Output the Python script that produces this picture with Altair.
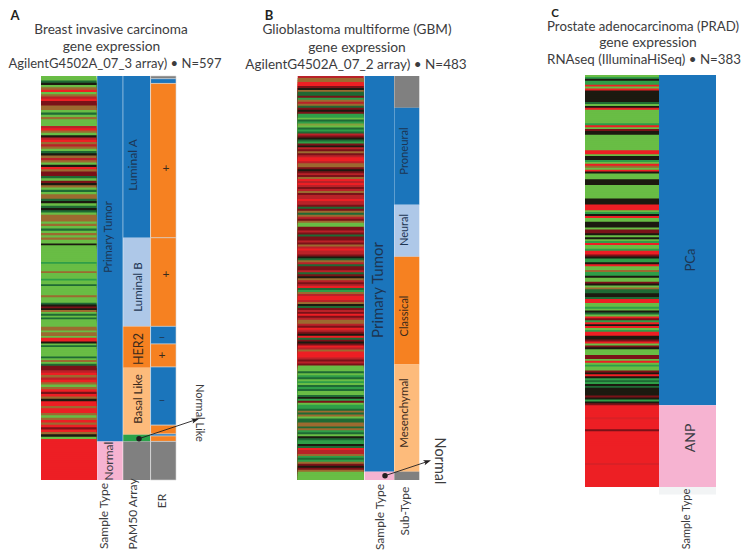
import altair as alt
import pandas as pd

# ---- heat-map stripes, one letter per stripe, grouped in clusters with their sample counts
A_MIXED = "GGdkGorGocrmmooGdGoGGGcroGkcrocoGdkocoGkrommdGmkoGdGoodkGdkdGoooGoGdGoGo"
A_GREEN = "GGkGGGGGGGGGHGGGGoGGGHGGdGGGGGoGGGdkmkoGdGdGGGGooGooGrrkGdGGGGGdGoGd"
A_RED = "mmcrocroGormrokrrorroGorormrokGr"
A_NORMAL = "rrrrrrrrrrrrrrrrrr"
A_CLUSTER_N = [242, 186, 112, 57]

B_MIXED = ("coorrmkoddmHocodmkmHHGdHlGdHdcmkdHmkcmomcrrcoomkmcmorcrcmcomccrccmdmodocmoGGmmcmdmmcmocrccmkdocdmmcdmko"
           "cmcrdHocrrcokdmcmrmcoocmrcmkrdmkmrcorrrcmcm")
B_GREEN = "GGGdGHdGHGdHdGGdkHmGHHdodoGddoodoHdGkdHHkdrccoHdHomkmo"
B_NORMAL = "GGGG"
B_CLUSTER_N = [346, 127, 10]

C_MIXED = ("GHkHHrGrkkkkkkdGkrGGGGGGGHrGmkkGGGGGGGGrrGkkHGroGrkGGGkkkGGGGGGGkkkrrrGHkrGGkkkGmmkGkGHrGG"
           "HrrmkHHkrGGoHHkGGmkGoddkkdrrGGHGkdGrmHrkrGHrrkkmrGmkGGGmmGrGHGGmkrkHdHkdkkkkmkHkm")
C_NORMAL = "rrrrrrerrrrrmrrrrrrrrrrrrrrrrerrrrrrrrrrr"
C_CLUSTER_N = [307, 76]

# ---- annotation tracks: category, sample count
A_SAMPLE = [("tumor", 540), ("normal", 57)]
A_PAM50 = [("blue", 239), ("lblue", 131), ("orange", 61), ("lorange", 99), ("green", 10), ("gray", 57)]
A_ER = [("gray", 4), ("blue", 7), ("orange", 228), ("orange", 131), ("blue", 26), ("orange", 34),
        ("blue", 86), ("orange", 13), ("blue", 3), ("orange", 8), ("gray", 57)]
B_SAMPLE = [("tumor", 473), ("normal", 10)]
B_SUBTYPE = [("gray", 38), ("blue", 116), ("lblue", 62), ("orange", 129), ("lorange", 128), ("gray", 10)]
C_SAMPLE = [("tumor", 307), ("normal", 76), ("pale", 7)]

STRIPE_KEYS = list("GHdkmrcole")
STRIPE_COLORS = ["#69bd45", "#2f9e48", "#1f6a34", "#1c1a10", "#7a1218", "#ed1f24", "#b92228", "#9c6a30", "#86a03c", "#da2026"]
TRACK_KEYS = ["tumor", "normal", "blue", "lblue", "orange", "lorange", "green", "gray", "pale"]
TRACK_COLORS = ["#1b75bb", "#f6b3d1", "#1b75bb", "#aec8e8", "#f68121", "#fdbb7b", "#2ba24a", "#808080", "#f2f4f5"]

X_SCALE = alt.Scale(domain=[8, 742], nice=False, zero=False)
PAGE_Y = alt.Scale(domain=[8, 550], range=[0, 542], nice=False, zero=False)
COLOR = alt.Scale(domain=STRIPE_KEYS + TRACK_KEYS, range=STRIPE_COLORS + TRACK_COLORS)
FONT = "Lato"
INK = "#3c3c3e"


def y_scale(n, top, bottom):
    return alt.Scale(domain=[0, n], range=[top - 8, bottom - 8], nice=False, zero=False)


def rects(df, scale, **mark):
    return alt.Chart(df).mark_rect(**mark).encode(
        x=alt.X("x0:Q", scale=X_SCALE, axis=None),
        x2="x1:Q",
        y=alt.Y("start:Q", scale=scale, axis=None),
        y2="end:Q",
        color=alt.Color("kind:N", scale=COLOR, legend=None),
    )


def heat(clusters, counts, x0, x1, top, bottom):
    # every stripe runs on to the end of the column; later stripes paint over it
    rows = []
    pos = 0.0
    total = sum(counts)
    for pattern, n in zip(clusters, counts):
        step = n / len(pattern)
        for i, key in enumerate(pattern):
            rows.append(dict(x0=x0, x1=x1, start=pos + i * step, end=total, kind=key))
        pos += n
    return rects(pd.DataFrame(rows), y_scale(total, top, bottom))


def track(segments, x0, x1, top, bottom, total, **mark):
    rows = []
    pos = 0
    for kind, n in segments:
        rows.append(dict(x0=x0, x1=x1, start=pos, end=pos + n, kind=kind))
        pos += n
    return rects(pd.DataFrame(rows), y_scale(total, top, bottom), **mark)


def label(text, x, y, size=12, angle=0, color=INK, weight="normal"):
    return alt.Chart(pd.DataFrame([dict(x=x, y=y, t=text)])).mark_text(
        font=FONT, fontSize=size, angle=angle, color=color, fontWeight=weight,
        align="center", baseline="middle",
    ).encode(
        x=alt.X("x:Q", scale=X_SCALE, axis=None),
        y=alt.Y("y:Q", scale=PAGE_Y, axis=None),
        text="t:N",
    )


def arrow(x0, y0, x1, y1, heading):
    line = pd.DataFrame([dict(x=x0, y=y0, x2=x1, y2=y1)])
    ink = "#231f20"
    shaft = alt.Chart(line).mark_rule(color=ink, strokeWidth=0.9).encode(
        x=alt.X("x:Q", scale=X_SCALE, axis=None), x2="x2:Q",
        y=alt.Y("y:Q", scale=PAGE_Y, axis=None), y2="y2:Q")
    dot = alt.Chart(line).mark_point(filled=True, size=30, color=ink, opacity=1).encode(
        x=alt.X("x:Q", scale=X_SCALE, axis=None),
        y=alt.Y("y:Q", scale=PAGE_Y, axis=None))
    head = alt.Chart(line).mark_point(
        filled=True, size=90, color=ink, opacity=1, angle=heading,
        shape="M0,-0.9L0.55,0.7L0,0.35L-0.55,0.7Z",
    ).encode(
        x=alt.X("x2:Q", scale=X_SCALE, axis=None),
        y=alt.Y("y2:Q", scale=PAGE_Y, axis=None))
    return [shaft, dot, head]


layers = [
    heat([A_MIXED, A_GREEN, A_RED, A_NORMAL], A_CLUSTER_N, 41, 96.6, 76, 480),
    track(A_SAMPLE, 97.2, 122.7, 76, 480, 597),
    track(A_PAM50, 123.2, 150, 76, 480, 597),
    track(A_ER, 150.6, 176, 76, 480, 597, stroke="#d4d4d4", strokeWidth=0.6),
    heat([B_MIXED, B_GREEN, B_NORMAL], B_CLUSTER_N, 297.7, 363.8, 76, 480),
    track(B_SAMPLE, 364.6, 394, 76, 480, 483),
    track(B_SUBTYPE, 394.3, 419.3, 76, 480, 483),
    heat([C_MIXED, C_NORMAL], C_CLUSTER_N, 585, 659, 75, 487),
    track(C_SAMPLE, 659, 716, 75, 487, 383),
]

NAVY = "#1d3553"
DARK = "#3a2a1c"
texts = [
    label("A", 15, 16, 13, weight="bold", color="#231f20"),
    label("B", 269, 16, 13, weight="bold", color="#231f20"),
    label("C", 555, 14, 11.5, weight="bold", color="#231f20"),
    label("Breast invasive carcinoma", 111, 29.5, 13.6),
    label("gene expression", 111.5, 46.5, 13.8),
    label("AgilentG4502A_07_3 array) • N=597", 115, 64, 13),
    label("Glioblastoma multiforme (GBM)", 357, 30, 13.6),
    label("gene expression", 357, 47.5, 13.8),
    label("AgilentG4502A_07_2 array) • N=483", 356, 65, 13.5),
    label("Prostate adenocarcinoma (PRAD)", 643, 26.5, 13.2),
    label("gene expression", 648, 43, 13.8),
    label("RNAseq (IlluminaHiSeq) • N=383", 644, 60, 13.3),
    label("Primary Tumor", 109, 237, 11.2, 270, NAVY),
    label("Luminal A", 133, 165, 12, 270, NAVY),
    label("Luminal B", 139, 287, 11.5, 270, NAVY),
    label("HER2", 139, 349, 12.5, 270, DARK),
    label("Basal Like", 139, 399, 11.5, 270, DARK),
    label("Normal", 109, 461, 12, 270, "#3c3c44"),
    label("+", 166, 168, 12, 0, DARK),
    label("+", 166, 274, 12, 0, DARK),
    label("–", 162, 337, 12, 0, NAVY),
    label("+", 162, 355, 12, 0, DARK),
    label("–", 162, 400, 12, 0, NAVY),
    label("Sample Type", 104, 516, 12, 270),
    label("PAM50  Array", 133, 514, 12, 270),
    label("ER", 162, 501, 12, 270),
    label("Normal Like", 199, 413, 11, 90),
    label("Primary Tumor", 378, 290, 15, 270, NAVY),
    label("Proneural", 405, 151, 11.2, 270, NAVY),
    label("Neural", 405, 230, 11, 270, NAVY),
    label("Classical", 405, 316, 11, 270, DARK),
    label("Mesenchymal", 405, 413, 11.5, 270, DARK),
    label("Normal", 439, 461, 14.5, 90),
    label("Sample Type", 380, 517, 12, 270),
    label("Sub-Type", 405, 511, 12, 270),
    label("PCa", 691, 260, 13, 270, NAVY),
    label("ANP", 691, 438, 14, 270, "#3c3c44"),
    label("Sample Type", 687, 519, 11, 270),
]

parts = layers + texts + arrow(139, 438.7, 195, 420, 71.5) + arrow(385, 475.7, 427, 461.7, 71.6)

chart = alt.layer(*parts).resolve_scale(y="independent").properties(
    width=734, height=542, padding=0, autosize=alt.AutoSizeParams(type="none"), background="white",
).configure_view(stroke=None)

chart.save("out.html", embed_options={"renderer": "svg", "actions": False})
